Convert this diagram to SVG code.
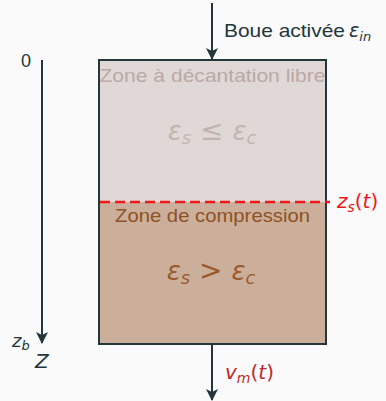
<svg xmlns="http://www.w3.org/2000/svg" width="386" height="401" viewBox="0 0 386 401">
<defs>
<marker id="ah" viewBox="0 0 12 12" refX="11" refY="6" markerWidth="12" markerHeight="12" markerUnits="userSpaceOnUse" orient="auto">
<path d="M0,0 L12,6 L0,12 L3,6 Z" fill="#23373b"/>
</marker>
<style>
.t{font-family:"Liberation Sans","DejaVu Sans",sans-serif;}
.m{font-family:"DejaVu Sans","Liberation Sans",sans-serif;font-style:italic;}
.ln{stroke:#23373b;stroke-width:2;fill:none;}
</style>
</defs>
<rect width="386" height="401" fill="#fafafa"/>
<g id="zone-libre">
<rect x="99" y="60" width="227" height="142" fill="#e0d8d6"/>
<text class="t" x="212.5" y="82" font-size="19" fill="#bba9a5" text-anchor="middle" textLength="226" lengthAdjust="spacingAndGlyphs">Zone à décantation libre</text>
<text class="m" x="212" y="140" font-size="26" fill="#c4b4b0" text-anchor="middle">ε<tspan font-size="18" dy="4">s</tspan><tspan dy="-4" font-style="normal" font-size="28"> ≤ </tspan>ε<tspan font-size="18" dy="4">c</tspan></text>
</g>
<g id="zone-compression">
<rect x="99" y="202" width="227" height="142" fill="#cbaf9b"/>
<text class="t" x="212.5" y="222" font-size="19" fill="#8f5124" text-anchor="middle" textLength="195" lengthAdjust="spacingAndGlyphs">Zone de compression</text>
<text class="m" x="211" y="280" font-size="26" fill="#9a5a2c" text-anchor="middle">ε<tspan font-size="18" dy="4">s</tspan><tspan dy="-4" font-style="normal" font-size="28"> &gt; </tspan>ε<tspan font-size="18" dy="4">c</tspan></text>
</g>
<g id="bassin">
<rect x="99" y="60" width="227" height="284" class="ln"/>
</g>
<g id="connectors">
<line x1="212" y1="3" x2="212" y2="59" class="ln" marker-end="url(#ah)"/>
<line x1="212" y1="345" x2="212" y2="400" class="ln" marker-end="url(#ah)"/>
<line x1="42" y1="60" x2="42" y2="343" class="ln" marker-end="url(#ah)"/>
<line x1="100" y1="202" x2="330" y2="202" stroke="#f01818" stroke-width="2.5" stroke-dasharray="10,5"/>
</g>
<g id="labels">
<text class="t" x="224" y="37" font-size="19" fill="#23373b" textLength="121" lengthAdjust="spacingAndGlyphs">Boue activée</text>
<text class="m" x="349" y="37" font-size="19" fill="#23373b">ε<tspan font-size="13" dy="4">in</tspan></text>
<text class="t" x="21" y="67" font-size="18" fill="#23373b">0</text>
<text class="m" x="12" y="347" font-size="18" fill="#23373b">z<tspan font-size="13" dy="3">b</tspan></text>
<text class="m" x="35" y="368" font-size="20" fill="#23373b">Z</text>
<text class="m" x="337" y="208" font-size="20" fill="#f01818">z<tspan font-size="14" dy="4">s</tspan><tspan dy="-4" font-style="normal">(</tspan>t<tspan font-style="normal">)</tspan></text>
<text class="m" x="225" y="379" font-size="20" fill="#c0282c">v<tspan font-size="14" dy="4">m</tspan><tspan dy="-4" font-style="normal">(</tspan>t<tspan font-style="normal">)</tspan></text>
</g>
</svg>
